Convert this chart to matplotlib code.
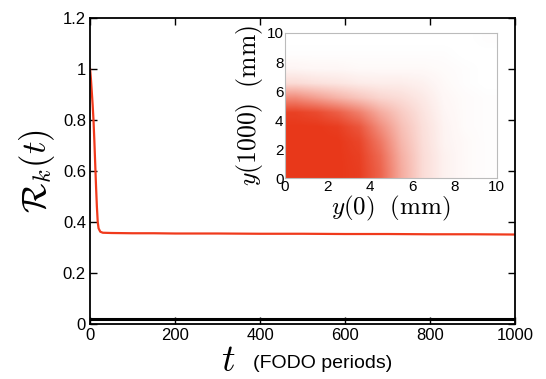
import numpy as np
import matplotlib
matplotlib.use("Agg")
import matplotlib.pyplot as plt
from matplotlib.colors import LinearSegmentedColormap

plt.rcParams['font.family'] = ['Liberation Sans', 'DejaVu Sans']
plt.rcParams['mathtext.fontset'] = 'cm'

# Main curve: R_k(t) vs t (FODO periods)
t_vals = [0, 2, 4, 6, 8, 10, 12, 14, 16, 18, 20, 24, 30, 50, 100, 150, 200, 300,
          400, 500, 600, 700, 800, 900, 1000]
r_vals = [1.0, 0.96, 0.91, 0.86, 0.80, 0.72, 0.63, 0.54, 0.46, 0.40, 0.375, 0.362,
          0.358, 0.357, 0.356, 0.356, 0.355, 0.355, 0.354, 0.354, 0.353, 0.353,
          0.352, 0.352, 0.351]
# Black baseline series
base_t = [0, 1000]
base_r = [0.019, 0.019]

# Inset: estimated point density of y(1000) vs y(0), 1 mm x 1 mm cells
# rows: y(1000) = 0.5 .. 9.5 ; columns: y(0) = 0.5 .. 9.5
inset_density = [
    [1.00, 1.00, 1.00, 0.97, 0.78, 0.42, 0.18, 0.07, 0.03, 0.01],
    [1.00, 1.00, 1.00, 0.96, 0.75, 0.40, 0.18, 0.07, 0.03, 0.01],
    [1.00, 1.00, 1.00, 0.93, 0.68, 0.36, 0.17, 0.06, 0.03, 0.01],
    [1.00, 1.00, 0.97, 0.85, 0.57, 0.32, 0.16, 0.06, 0.02, 0.01],
    [0.95, 0.90, 0.80, 0.64, 0.42, 0.26, 0.14, 0.05, 0.02, 0.01],
    [0.58, 0.48, 0.38, 0.29, 0.21, 0.17, 0.11, 0.04, 0.02, 0.01],
    [0.18, 0.15, 0.13, 0.10, 0.09, 0.09, 0.07, 0.03, 0.01, 0.00],
    [0.05, 0.04, 0.04, 0.03, 0.03, 0.03, 0.03, 0.02, 0.01, 0.00],
    [0.01, 0.01, 0.01, 0.01, 0.01, 0.01, 0.01, 0.01, 0.00, 0.00],
    [0.00, 0.00, 0.00, 0.00, 0.00, 0.00, 0.00, 0.00, 0.00, 0.01],
]
inset_ticks = [0, 2, 4, 6, 8, 10]

red = '#f03a1c'
fig = plt.figure(figsize=(5.46, 3.79), dpi=100)
ax = fig.add_axes([0.165, 0.145, 0.778, 0.8075])
ax.plot(t_vals, r_vals, color=red, lw=1.6)
ax.plot(base_t, base_r, color='black', lw=2.2)
ax.set_xlim(0, 1000)
ax.set_ylim(0, 1.2)
ax.set_xticks([0, 200, 400, 600, 800, 1000])
ax.set_yticks([0, 0.2, 0.4, 0.6, 0.8, 1.0, 1.2])
ax.set_yticklabels(['0', '0.2', '0.4', '0.6', '0.8', '1', '1.2'])
ax.tick_params(direction='in', top=True, right=True, labelsize=12, length=5, width=1,
               pad=3)
for s in ax.spines.values():
    s.set_linewidth(1.3)
ax.set_ylabel(r'$\mathcal{R}_k(t)$', fontsize=25, labelpad=4)
ax.text(0.342, -0.153, r'$t$', fontsize=27, transform=ax.transAxes, ha='right',
        va='baseline')
ax.text(0.383, -0.143, '(FODO periods)', fontsize=14, transform=ax.transAxes,
        ha='left', va='baseline')

# Inset
axi = fig.add_axes([0.522, 0.530, 0.388, 0.383])
cmap = LinearSegmentedColormap.from_list('wr', ['#ffffff', '#e8381a'])
axi.imshow(np.array(inset_density), origin='lower', extent=[0, 10, 0, 10],
           cmap=cmap, vmin=0, vmax=1, interpolation='bilinear', aspect='auto')
axi.set_xlim(0, 10)
axi.set_ylim(0, 10)
axi.set_xticks(inset_ticks)
axi.set_yticks(inset_ticks)
axi.tick_params(length=0, labelsize=11, pad=1)
for s in axi.spines.values():
    s.set_color('#bbbbbb')
    s.set_linewidth(0.8)
axi.set_xlabel(r'$y(0)\ \ \mathrm{(mm)}$', fontsize=18, labelpad=0)
axi.set_ylabel(r'$y(1000)\ \ \mathrm{(mm)}$', fontsize=18.5, labelpad=1)

fig.savefig('out.png', dpi=100)
